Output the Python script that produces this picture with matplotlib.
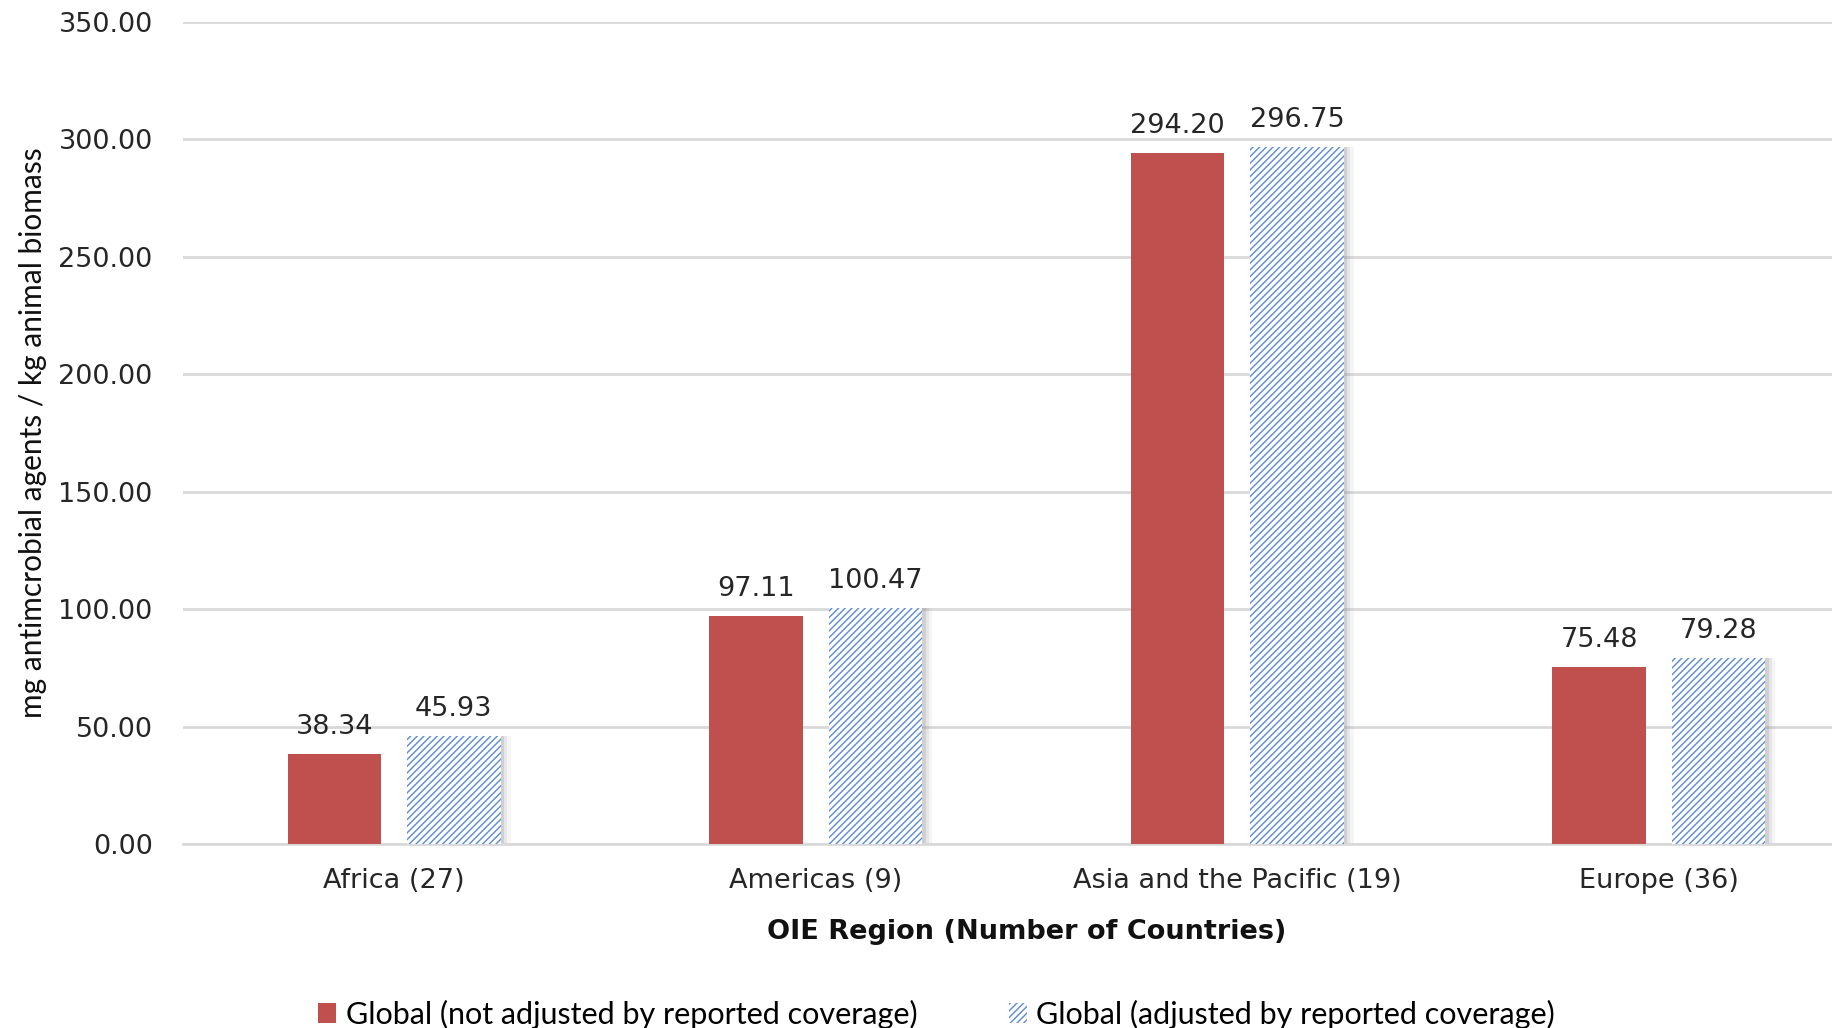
import matplotlib
matplotlib.use("Agg")
import matplotlib.pyplot as plt
import numpy as np

regions = ["Africa (27)", "Americas (9)", "Asia and the Pacific (19)", "Europe (36)"]
not_adjusted = [38.34, 97.11, 294.20, 75.48]
adjusted = [45.93, 100.47, 296.75, 79.28]
series_names = ["Global (not adjusted by reported coverage)",
                "Global (adjusted by reported coverage)"]

red = "#c0504d"
blue = "#5a8ad8"
plt.rcParams["hatch.linewidth"] = 1.0

fig = plt.figure(figsize=(18.33, 10.28), dpi=100)
ax = fig.add_axes([0.1, 0.179, 0.92, 0.7996])

x = np.arange(len(regions))
w = 0.222
off = 0.1415

ax.bar(x - off, not_adjusted, width=w, color=red, zorder=3, label=series_names[0])

# soft shadow on the right of the hatched bars
for k, a in enumerate([0.20, 0.13, 0.07]):
    ax.bar(x + off + 0.008 * (k + 1), adjusted, width=w, color="#7f7f7f",
           alpha=a, linewidth=0, zorder=2)
ax.bar(x + off, adjusted, width=w, facecolor="white", edgecolor=blue,
       hatch="/////", linewidth=0, zorder=3, label=series_names[1])

for xi, v in zip(x - off, not_adjusted):
    ax.annotate(f"{v:.2f}", (xi, v), xytext=(0, 10), textcoords="offset points",
                ha="center", va="bottom", fontsize=19.5, color="#262626")
for xi, v in zip(x + off, adjusted):
    ax.annotate(f"{v:.2f}", (xi, v), xytext=(0, 10), textcoords="offset points",
                ha="center", va="bottom", fontsize=19.5, color="#262626")

ax.set_xlim(-0.5, 3.5)
ax.set_ylim(0, 350)
ax.set_yticks(np.arange(0, 351, 50))
ax.set_yticklabels([f"{t:.2f}" for t in np.arange(0, 351, 50)])
ax.set_xticks(x)
ax.set_xticklabels(regions)
ax.tick_params(axis="both", length=0, labelsize=19.5, colors="#262626")
ax.tick_params(axis="y", pad=22)
ax.tick_params(axis="x", pad=17)
ax.grid(axis="y", color="#d9d9d9", linewidth=2, zorder=0)
for s in ["top", "right", "left"]:
    ax.spines[s].set_visible(False)
ax.spines["bottom"].set_color("#d9d9d9")
ax.spines["bottom"].set_linewidth(2)

ax.set_xlabel("OIE Region (Number of Countries)", fontsize=19.5, fontweight="bold",
              color="#111111", labelpad=18)
ax.set_ylabel("mg antimcrobial agents / kg animal biomass", fontsize=21.5,
              family="Lato", color="#111111", labelpad=8)

fig.legend(loc="center", bbox_to_anchor=(0.511, 0.0136), ncol=2, frameon=False,
           prop={"family": "Lato", "size": 22}, handlelength=0.6, handleheight=0.6,
           handletextpad=0.3, columnspacing=3.0)

fig.savefig("out.png", dpi=100)
